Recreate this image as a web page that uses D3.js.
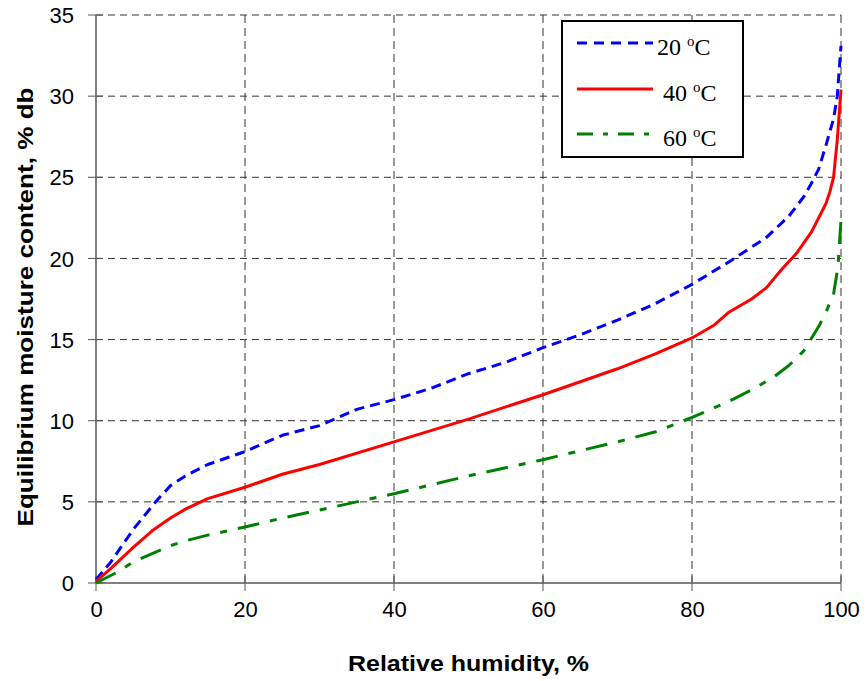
<!DOCTYPE html>
<html>
<head>
<meta charset="utf-8">
<script src="https://cdn.jsdelivr.net/npm/d3@7"></script>
<style>
  html, body { margin: 0; padding: 0; background: #fff; }
  svg { display: block; }
</style>
</head>
<body>
<svg id="chart" width="866" height="681"></svg>
<script>
// Relative humidity (%) and equilibrium moisture content (% db) per temperature
const rh20  = [0, 2, 5, 8, 10, 12, 15, 20, 25, 30, 35, 40, 45, 50, 55, 60, 65, 70, 75, 80, 85, 90, 93, 95, 96, 97, 98, 99, 99.5, 100];
const emc20 = [0.2, 1.3, 3.3, 5.0, 6.0, 6.6, 7.3, 8.1, 9.1, 9.7, 10.7, 11.3, 12.0, 12.9, 13.6, 14.5, 15.3, 16.2, 17.2, 18.4, 19.8, 21.3, 22.6, 23.8, 24.6, 25.5, 27.0, 28.6, 30.0, 33.1];

const rh40  = [0, 2, 5, 7.5, 10, 12, 15, 20, 25, 30, 40, 50, 60, 70, 75, 80, 83, 85, 88, 90, 92, 94, 96, 97, 98, 98.5, 99, 99.5, 100];
const emc40 = [0.1, 0.9, 2.2, 3.2, 4.0, 4.55, 5.2, 5.9, 6.7, 7.3, 8.7, 10.1, 11.6, 13.2, 14.1, 15.1, 15.9, 16.7, 17.5, 18.2, 19.3, 20.3, 21.6, 22.5, 23.4, 24.1, 25.0, 27.3, 30.4];

const rh60  = [0, 3, 5, 8, 10, 12, 15, 18, 20, 25, 30, 35, 40, 50, 60, 70, 75, 80, 85, 88, 91, 93, 95, 97, 98, 99, 99.6, 100];
const emc60 = [0, 0.7, 1.3, 1.9, 2.3, 2.6, 2.95, 3.25, 3.45, 4.0, 4.5, 5.0, 5.5, 6.6, 7.6, 8.7, 9.3, 10.2, 11.2, 11.9, 12.7, 13.4, 14.3, 15.8, 16.7, 17.8, 19.5, 22.4];

const xTicks = [0, 20, 40, 60, 80, 100];
const yTicks = [0, 5, 10, 15, 20, 25, 30, 35];
const seriesNames = ["20", "40", "60"];

const series = [
  { name: seriesNames[0], x: rh20, y: emc20, color: "#0000ff", dash: "10,6", legendDash: "10,7" },
  { name: seriesNames[1], x: rh40, y: emc40, color: "#ff0000", dash: null, legendDash: null },
  { name: seriesNames[2], x: rh60, y: emc60, color: "#008000", dash: "22,11,7,11", legendDash: "16,10,5,10" }
];

const svg = d3.select("#chart");
const plotL = 96, plotR = 841, plotT = 15, plotB = 583;

const x = d3.scaleLinear().domain([0, 100]).range([plotL, plotR]);
const y = d3.scaleLinear().domain([0, 35]).range([plotB, plotT]);

// Grid lines (dashed), including the top and right frame
const grid = svg.append("g");
grid.selectAll("line.hg").data(yTicks.filter(d => d > 0)).join("line")
  .attr("x1", plotL).attr("x2", plotR)
  .attr("y1", d => y(d)).attr("y2", d => y(d))
  .attr("stroke", "#333").attr("stroke-width", 1).attr("stroke-dasharray", "7,5");
grid.selectAll("line.vg").data(xTicks.filter(d => d > 0)).join("line")
  .attr("y1", plotT).attr("y2", plotB)
  .attr("x1", d => x(d)).attr("x2", d => x(d))
  .attr("stroke", "#333").attr("stroke-width", 1).attr("stroke-dasharray", "8,5");

// Axes
const xAxis = d3.axisBottom(x).tickValues(xTicks).tickSize(0).tickPadding(18);
const yAxis = d3.axisLeft(y).tickValues(yTicks).tickSize(0).tickPadding(22);

const gx = svg.append("g").attr("transform", `translate(0,${plotB})`).call(xAxis);
const gy = svg.append("g").attr("transform", `translate(${plotL},0)`).call(yAxis);

[gx, gy].forEach(g => {
  g.select(".domain").remove();
  g.selectAll("text")
    .attr("font-family", "Liberation Sans, Arial, sans-serif")
    .attr("font-size", 22)
    .attr("fill", "#000");
});
gy.selectAll("text").attr("dy", "0.35em");

// Axis lines and cross ticks
svg.append("line").attr("x1", plotL).attr("x2", plotR).attr("y1", plotB).attr("y2", plotB)
  .attr("stroke", "#808080").attr("stroke-width", 2);
svg.append("line").attr("x1", plotL).attr("x2", plotL).attr("y1", plotT).attr("y2", plotB)
  .attr("stroke", "#808080").attr("stroke-width", 2);
svg.append("g").selectAll("line").data(yTicks).join("line")
  .attr("x1", plotL - 8).attr("x2", plotL + 7)
  .attr("y1", d => y(d)).attr("y2", d => y(d))
  .attr("stroke", "#555").attr("stroke-width", 1);
svg.append("g").selectAll("line").data(xTicks).join("line")
  .attr("y1", plotB - 7).attr("y2", plotB + 8)
  .attr("x1", d => x(d)).attr("x2", d => x(d))
  .attr("stroke", "#555").attr("stroke-width", 1);

// Curves
const line = d3.line().x(d => x(d[0])).y(d => y(d[1]));
series.forEach(s => {
  svg.append("path")
    .datum(s.x.map((v, i) => [v, s.y[i]]))
    .attr("d", line)
    .attr("fill", "none")
    .attr("stroke", s.color)
    .attr("stroke-width", 3)
    .attr("stroke-linejoin", "round")
    .attr("stroke-dasharray", s.dash);
});

// Axis titles
svg.append("text")
  .attr("x", (plotL + plotR) / 2).attr("y", 671)
  .attr("text-anchor", "middle")
  .attr("font-family", "Liberation Sans, Arial, sans-serif")
  .attr("font-weight", "bold").attr("font-size", 22)
  .attr("textLength", 241).attr("lengthAdjust", "spacingAndGlyphs")
  .text("Relative humidity, %");

svg.append("text")
  .attr("transform", `translate(33,${(plotT + plotB) / 2 + 8}) rotate(-90)`)
  .attr("text-anchor", "middle")
  .attr("font-family", "Liberation Sans, Arial, sans-serif")
  .attr("font-weight", "bold").attr("font-size", 22)
  .attr("textLength", 439).attr("lengthAdjust", "spacingAndGlyphs")
  .text("Equilibrium moisture content, % db");

// Legend
const lg = svg.append("g");
lg.append("rect").attr("x", 562).attr("y", 21).attr("width", 181).attr("height", 136)
  .attr("fill", "#fff").attr("stroke", "#000").attr("stroke-width", 2);
const legendY = [43, 89, 134];
const textX = [657, 663, 663];
series.forEach((s, i) => {
  lg.append("line")
    .attr("x1", 577).attr("x2", 653)
    .attr("y1", legendY[i]).attr("y2", legendY[i])
    .attr("stroke", s.color).attr("stroke-width", 3)
    .attr("stroke-dasharray", s.legendDash);
  const t = lg.append("text")
    .attr("x", textX[i]).attr("y", legendY[i] + 12)
    .attr("font-family", "Liberation Serif, Times New Roman, serif")
    .attr("font-size", 24).attr("fill", "#000");
  t.append("tspan").text(s.name + " ");
  t.append("tspan").attr("font-size", 15).attr("dy", -9).text("o");
  t.append("tspan").attr("dy", 9).text("C");
});
</script>
</body>
</html>
